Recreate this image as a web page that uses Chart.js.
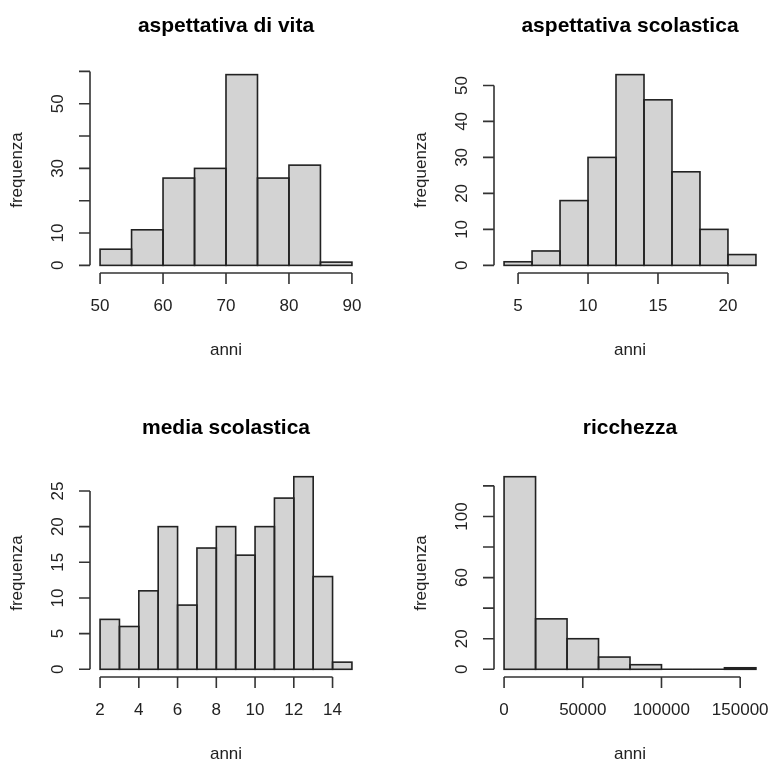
<!DOCTYPE html>
<html>
<head>
<meta charset="utf-8">
<script src="https://cdn.jsdelivr.net/npm/chart.js@4"></script>
<style>
  html, body { margin: 0; padding: 0; background: #fff; }
  #wrap { position: relative; width: 768px; height: 763px; overflow: hidden; }
  #wrap canvas { position: absolute; }
</style>
</head>
<body>
<div id="wrap">
  <canvas id="c1" width="384" height="381" style="left:0;top:0"></canvas>
  <canvas id="c2" width="384" height="381" style="left:384px;top:0"></canvas>
  <canvas id="c3" width="384" height="383" style="left:0;top:380px"></canvas>
  <canvas id="c4" width="384" height="383" style="left:384px;top:380px"></canvas>
</div>
<script>
// aspettativa di vita
var vitaEdges = [50, 55, 60, 65, 70, 75, 80, 85, 90];
var vitaCounts = [5, 11, 27, 30, 59, 27, 31, 1];
var vitaXTicks = [50, 60, 70, 80, 90];
var vitaYTicks = [0, 10, 20, 30, 40, 50, 60];
var vitaYLabels = ['0', '10', '', '30', '', '50', ''];

// aspettativa scolastica
var scolEdges = [4, 6, 8, 10, 12, 14, 16, 18, 20, 22];
var scolCounts = [1, 4, 18, 30, 53, 46, 26, 10, 3];
var scolXTicks = [5, 10, 15, 20];
var scolYTicks = [0, 10, 20, 30, 40, 50];
var scolYLabels = ['0', '10', '20', '30', '40', '50'];

// media scolastica
var mediaEdges = [2, 3, 4, 5, 6, 7, 8, 9, 10, 11, 12, 13, 14, 15];
var mediaCounts = [7, 6, 11, 20, 9, 17, 20, 16, 20, 24, 27, 13, 1];
var mediaXTicks = [2, 4, 6, 8, 10, 12, 14];
var mediaYTicks = [0, 5, 10, 15, 20, 25];
var mediaYLabels = ['0', '5', '10', '15', '20', '25'];

// ricchezza
var ricEdges = [0, 20000, 40000, 60000, 80000, 100000, 120000, 140000, 160000];
var ricCounts = [126, 33, 20, 8, 3, 0, 0, 1];
var ricXTicks = [0, 50000, 100000, 150000];
var ricYTicks = [0, 20, 40, 60, 80, 100, 120];
var ricYLabels = ['0', '20', '', '60', '', '100', ''];

var FONT = "'Liberation Sans', Arial, sans-serif";

function histAxes(p) {
  return {
    id: 'histAxes',
    afterDatasetsDraw: function(chart) {
      // R strokes the bar outline on the edge, so empty bins become a flat line
      var ctx = chart.ctx;
      ctx.save();
      ctx.strokeStyle = '#222';
      ctx.lineWidth = 1.6;
      chart.getDatasetMeta(0).data.forEach(function(bar) {
        var w = bar.width;
        ctx.strokeRect(bar.x - w / 2, Math.min(bar.y, bar.base), w, Math.abs(bar.base - bar.y));
      });
      ctx.restore();
    },
    afterDraw: function(chart) {
      var ctx = chart.ctx, xs = chart.scales.x, ys = chart.scales.y, a = chart.chartArea;
      ctx.save();
      ctx.strokeStyle = '#333';
      ctx.lineWidth = 1.6;

      // x axis
      ctx.beginPath();
      ctx.moveTo(xs.getPixelForValue(p.xTicks[0]), a.bottom);
      ctx.lineTo(xs.getPixelForValue(p.xTicks[p.xTicks.length - 1]), a.bottom);
      p.xTicks.forEach(function(v) {
        var px = xs.getPixelForValue(v);
        ctx.moveTo(px, a.bottom);
        ctx.lineTo(px, a.bottom + 11);
      });
      // y axis
      ctx.moveTo(a.left, ys.getPixelForValue(p.yTicks[0]));
      ctx.lineTo(a.left, ys.getPixelForValue(p.yTicks[p.yTicks.length - 1]));
      p.yTicks.forEach(function(v) {
        var py = ys.getPixelForValue(v);
        ctx.moveTo(a.left, py);
        ctx.lineTo(a.left - 11, py);
      });
      ctx.stroke();

      ctx.fillStyle = '#222';
      ctx.font = '17px ' + FONT;
      ctx.textAlign = 'center';
      ctx.textBaseline = 'middle';
      p.xTicks.forEach(function(v) {
        ctx.fillText(String(v), xs.getPixelForValue(v), a.bottom + 33);
      });
      ctx.fillText('anni', (a.left + a.right) / 2, a.bottom + 77);

      p.yTicks.forEach(function(v, i) {
        if (!p.yLabels[i]) return;
        ctx.save();
        ctx.translate(a.left - 32, ys.getPixelForValue(v));
        ctx.rotate(-Math.PI / 2);
        ctx.fillText(p.yLabels[i], 0, 0);
        ctx.restore();
      });
      ctx.save();
      ctx.translate(a.left - 73, (a.top + a.bottom) / 2);
      ctx.rotate(-Math.PI / 2);
      ctx.fillText('frequenza', 0, 0);
      ctx.restore();

      ctx.fillStyle = '#000';
      ctx.font = 'bold 21px ' + FONT;
      ctx.fillText(p.title, (a.left + a.right) / 2, a.top - 41);
      ctx.restore();
    }
  };
}

function drawHist(id, p) {
  var xr = p.edges[p.edges.length - 1] - p.edges[0];
  var ymax = Math.max.apply(null, p.counts);
  var points = p.counts.map(function(c, i) {
    return { x: (p.edges[i] + p.edges[i + 1]) / 2, y: c };
  });

  return new Chart(document.getElementById(id), {
    type: 'bar',
    data: {
      datasets: [{
        data: points,
        backgroundColor: '#d3d3d3',
        borderWidth: 0,
        barPercentage: 1,
        categoryPercentage: 1
      }]
    },
    options: {
      responsive: false,
      animation: false,
      devicePixelRatio: 1,
      layout: { padding: p.pad },
      scales: {
        x: {
          type: 'linear', display: false, offset: false,
          min: p.edges[0] - 0.04 * xr, max: p.edges[p.edges.length - 1] + 0.04 * xr
        },
        y: { type: 'linear', display: false, min: -0.04 * ymax, max: 1.04 * ymax }
      },
      plugins: { legend: { display: false }, tooltip: { enabled: false } }
    },
    plugins: [histAxes(p)]
  });
}

drawHist('c1', {
  title: 'aspettativa di vita', edges: vitaEdges, counts: vitaCounts,
  xTicks: vitaXTicks, yTicks: vitaYTicks, yLabels: vitaYLabels,
  pad: { left: 90, right: 22, top: 67, bottom: 108 }
});
drawHist('c2', {
  title: 'aspettativa scolastica', edges: scolEdges, counts: scolCounts,
  xTicks: scolXTicks, yTicks: scolYTicks, yLabels: scolYLabels,
  pad: { left: 110, right: 2, top: 67, bottom: 108 }
});
drawHist('c3', {
  title: 'media scolastica', edges: mediaEdges, counts: mediaCounts,
  xTicks: mediaXTicks, yTicks: mediaYTicks, yLabels: mediaYLabels,
  pad: { left: 90, right: 22, top: 89, bottom: 86 }
});
drawHist('c4', {
  title: 'ricchezza', edges: ricEdges, counts: ricCounts,
  xTicks: ricXTicks, yTicks: ricYTicks, yLabels: ricYLabels,
  pad: { left: 110, right: 2, top: 89, bottom: 86 }
});
</script>
</body>
</html>
